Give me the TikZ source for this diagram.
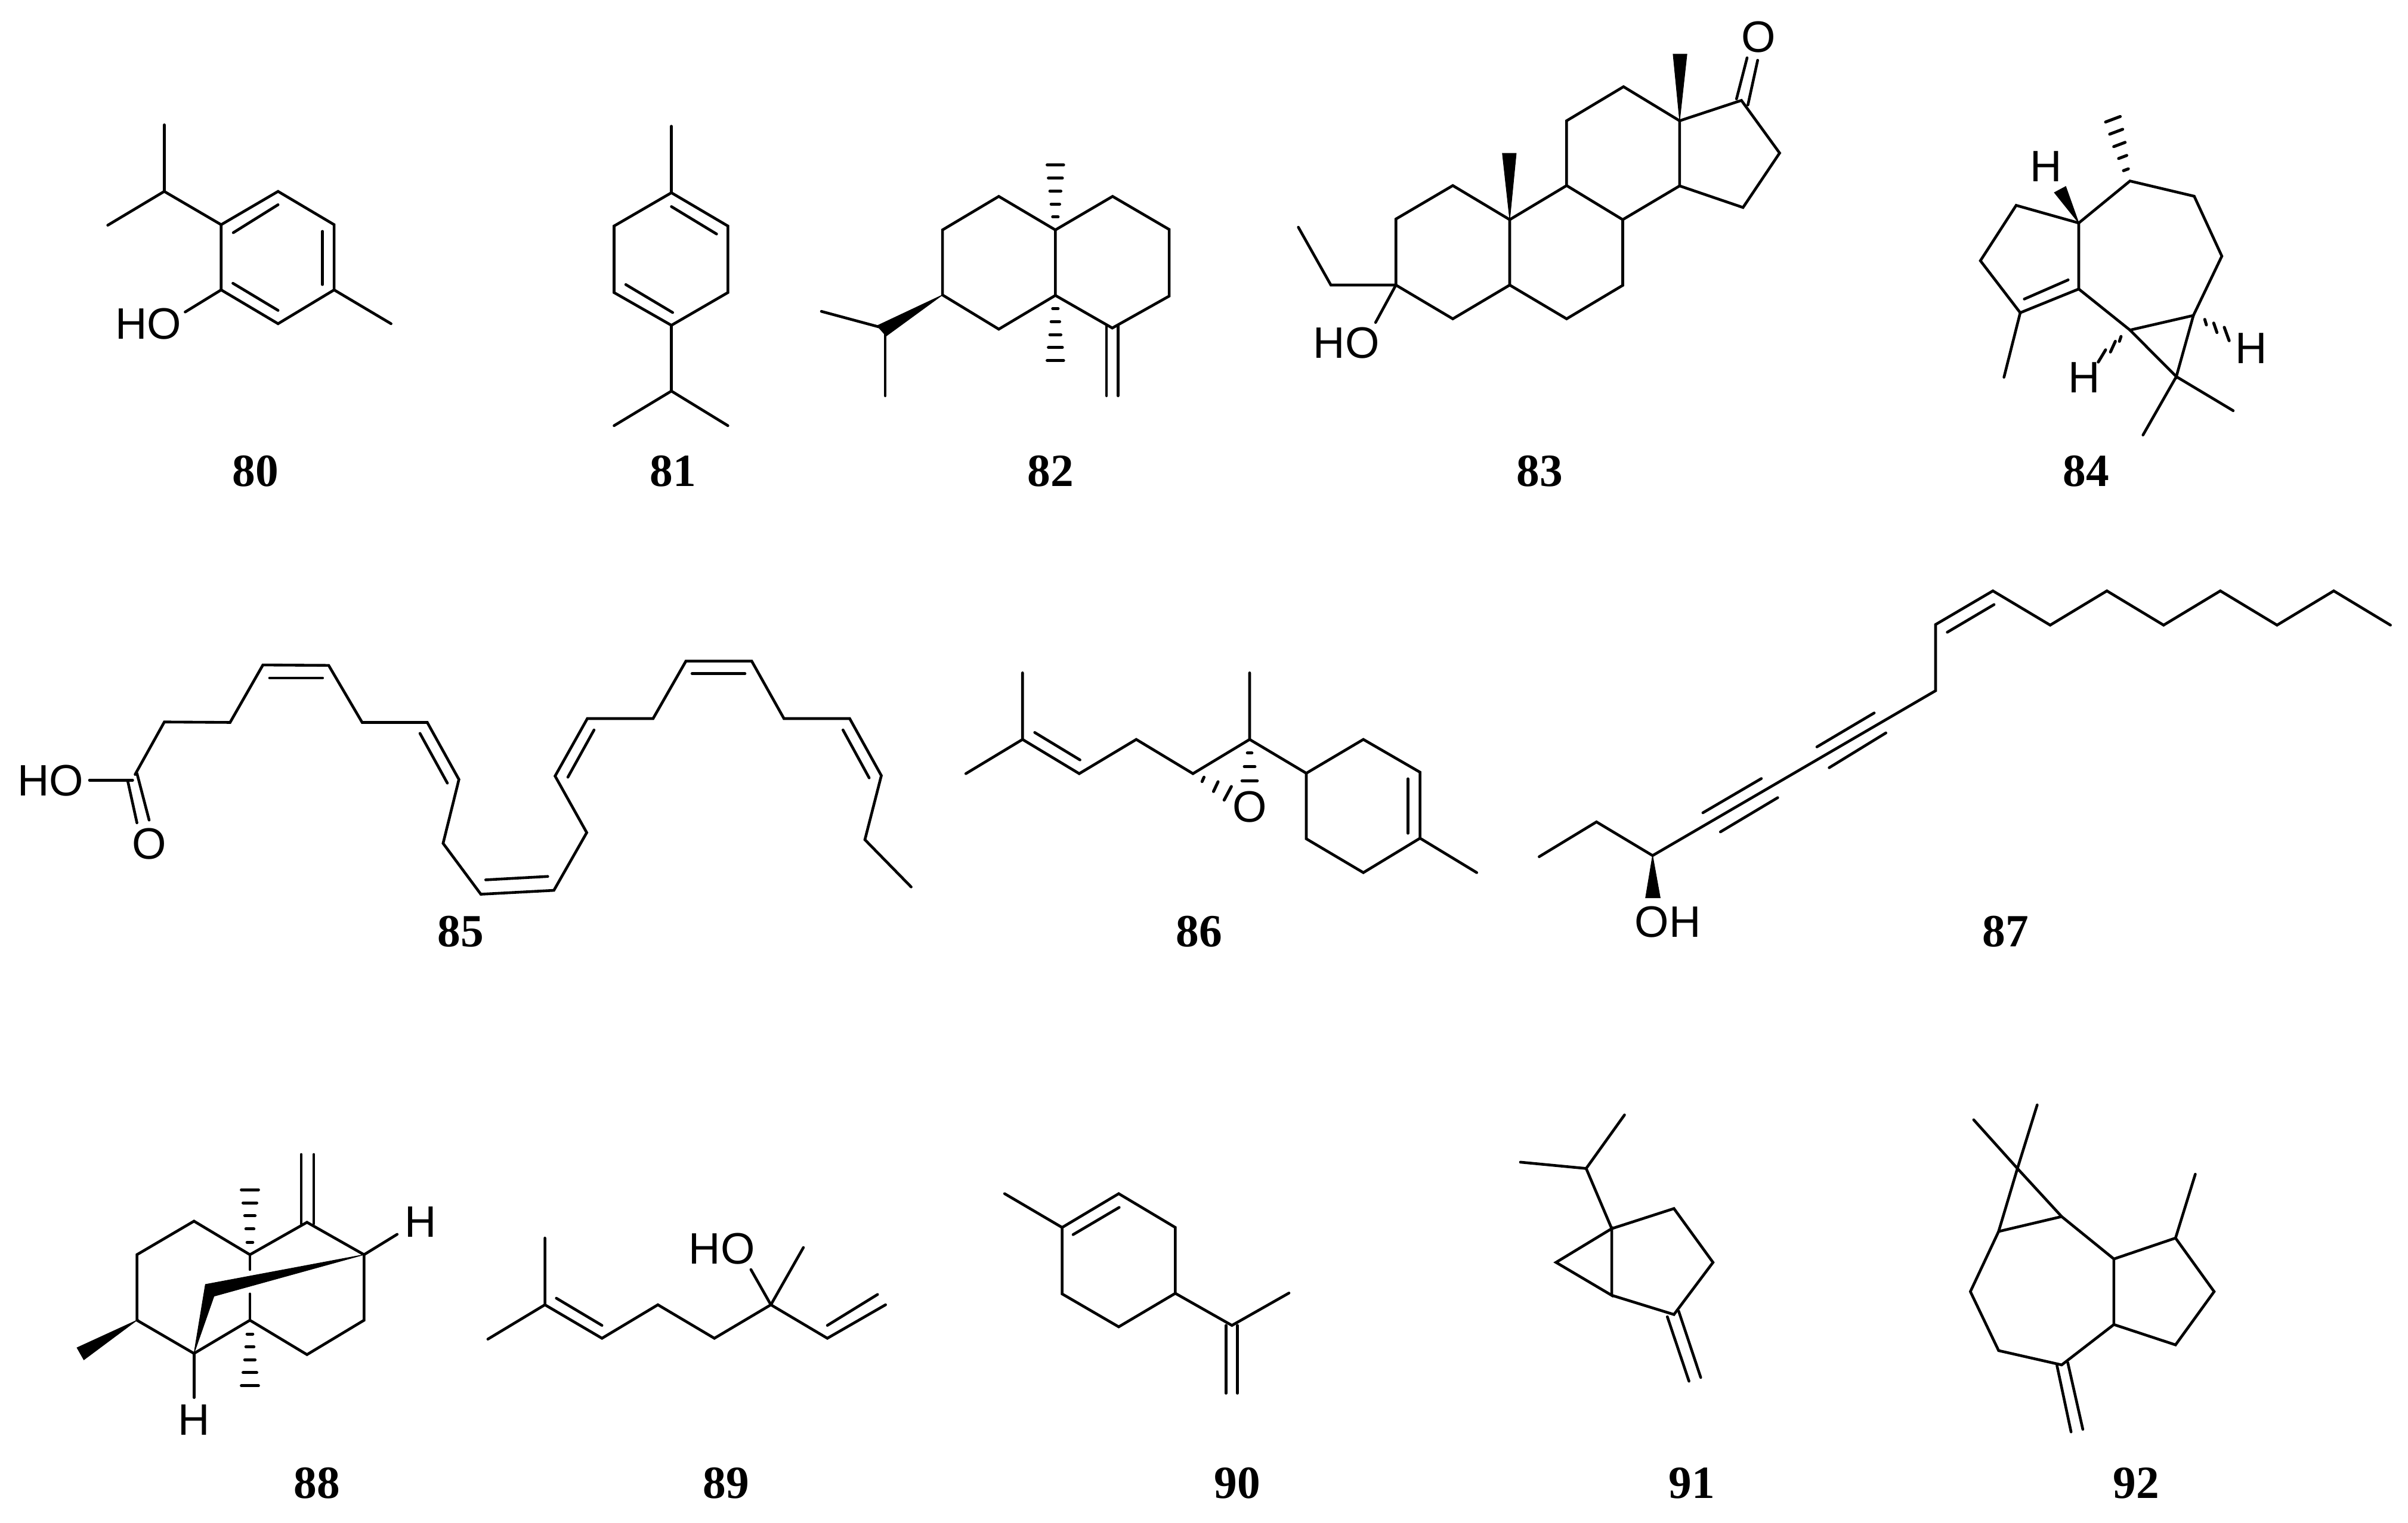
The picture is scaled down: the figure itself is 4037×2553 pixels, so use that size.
\documentclass[tikz,border=0pt]{standalone}
\usepackage{fontspec}
\setmainfont{Liberation Sans}
\newfontfamily\lblfont[Ligatures=TeX]{Liberation Serif}
\tikzset{
  bond/.style={line width=0.46mm,line cap=round,line join=miter,black},
  hashd/.style={line width=0.5mm,line cap=round,black},
  wedgeb/.style={fill=black,draw=black,line width=0.1mm,line join=miter},
  atom/.style={inner sep=0pt,font=\fontsize{21}{21}\selectfont,text=black},
  cmpd/.style={inner sep=0pt,font=\lblfont\bfseries\fontsize{22}{22}\selectfont,text=black},
  zm/.style n args={5}{shift={(#1,#2)},x=#3/1568*0.01cm,y=-#4/#5*0.01cm}
}
\newcommand{\hashv}[2]{\foreach \yy/\ww in {#2} \draw[hashd] ({#1-\ww/2},\yy) -- ({#1+\ww/2},\yy);}
\begin{document}
\begin{tikzpicture}[x=0.01cm,y=-0.01cm]
\path[use as bounding box,fill=white] (0,0) rectangle (4037,2553);
% 80, 81
\begin{scope}[zm={100}{100}{1100}{700}{1568}]
\draw[bond] (250,245)--(250,495);
\draw[bond] (115,622)--(250,495)--(386,620);
\draw[bond] (386,620)--(522,495)--(656,620)--(656,865)--(522,992)--(386,865)--cycle;
\draw[bond] (386,865)--(300,948);
\draw[bond] (656,865)--(792,992);
\draw[bond] (415,650)--(522,545);
\draw[bond] (628,645)--(628,845);
\draw[bond] (414,840)--(522,942);
\node[atom] (ho80) at (212,992) {HO};
\draw[bond] (1462,250)--(1462,500);
\draw[bond] (1462,500)--(1325,625)--(1325,875)--(1462,998)--(1597,875)--(1597,625)--cycle;
\draw[bond] (1462,552)--(1570,655);
\draw[bond] (1353,845)--(1465,950);
\draw[bond] (1462,998)--(1462,1245);
\draw[bond] (1325,1375)--(1462,1245)--(1597,1375);
\end{scope}
% 82
\begin{scope}[zm={1200}{200}{800}{600}{1568}]
\draw[bond] (745,770)--(745,485)--(930,338)--(1116,485)--(1116,772)--(930,920)--cycle;
\draw[bond] (1116,485)--(1304,338)--(1490,483)--(1490,775)--(1303,915)--(1116,772);
\draw[bond] (1284,905)--(1284,1212);
\draw[bond] (1322,905)--(1322,1212);
\fill[wedgeb] (745,770)--(530,905)--(560,950)--cycle;
\draw[bond] (347,842)--(550,915);
\draw[bond] (557,925)--(557,1212);
\hashv{1116}{428/18,372/28,315/36,258/46,200/54}
\hashv{1116}{830/18,887/28,944/36,1000/46,1057/54}
\end{scope}
% 83, 84
\begin{scope}[zm={1900}{0}{2137}{800}{1568}]
\draw[bond] (323,720)--(393,610)--(463,722)--(463,937)--(393,1048)--(323,937)--cycle;
\draw[bond] (463,722)--(533,610)--(602,722)--(602,938)--(533,1048)--(463,937);
\draw[bond] (533,610)--(533,397)--(603,285)--(672,397)--(672,611)--(602,722);
\draw[bond] (672,397)--(748,330)--(795,503)--(750,682)--(672,611);
\draw[bond] (323,937)--(243,937)--(203,747);
\draw[bond] (323,937)--(298,1060);
\node[atom] (ho83) at (262,1128) {HO};
\draw[bond] (742,325)--(755,190);
\draw[bond] (756,345)--(768,198);
\node[atom] (o83) at (769,122) {O};
\fill[wedgeb] (672,397)--(664,178)--(681,178)--cycle;
\fill[wedgeb] (463,722)--(454,504)--(471,504)--cycle;
\draw[bond] (1163,733)--(1086,675)--(1042,857)--(1091,1028)--(1163,950)--cycle;
\draw[bond] (1163,733)--(1226,595)--(1305,645)--(1339,842)--(1304,1037)--(1226,1085)--(1163,950);
\draw[bond] (1096,983)--(1150,920);
\draw[bond] (1091,1028)--(1071,1240);
\draw[bond] (1226,1085)--(1283,1238)--(1304,1037);
\draw[bond] (1283,1238)--(1353,1350);
\draw[bond] (1283,1238)--(1242,1430);
\fill[wedgeb] (1163,733)--(1133,633)--(1147,613)--cycle;
\node[atom] (h84a) at (1123,547) {H};
\foreach \cx/\cy/\k in {1221/558/3,1217/516/5,1213/475/7,1209/433/8,1205/392/9}
  \draw[hashd] ({\cx-\k},{\cy+\k}) -- ({\cx+\k},{\cy-\k});
\draw[hashd] (1215,1106)--(1213,1122);
\draw[hashd] (1208,1122)--(1202,1157);
\draw[hashd] (1196,1150)--(1187,1190);
\node[atom] (h84b) at (1170,1240) {H};
\draw[hashd] (1318,1050)--(1320,1068);
\draw[hashd] (1329,1062)--(1333,1093);
\draw[hashd] (1342,1076)--(1348,1120);
\node[atom] (h84c) at (1375,1145) {H};
\end{scope}
% 85
\begin{scope}[zm={0}{1050}{1600}{600}{1568}]
\draw[bond] (222,650)--(270,420)--(378,422)--(432,170)--(540,172)--(595,422)--(702,422)--(754,672)--(728,952)--(790,1175)--(910,1158)--(964,905)--(912,657)--(965,405)--(1073,405)--(1127,153)--(1235,153)--(1288,405)--(1396,405)--(1448,655)--(1421,936)--(1497,1143);
\draw[bond] (443,227)--(530,227);
\draw[bond] (690,470)--(735,688);
\draw[bond] (798,1112)--(900,1097);
\draw[bond] (933,662)--(976,455);
\draw[bond] (1137,208)--(1224,208);
\draw[bond] (1385,455)--(1428,665);
\draw[bond] (210,680)--(225,862);
\draw[bond] (225,645)--(245,850);
\draw[bond] (147,675)--(218,675);
\node[atom] (ho85) at (83,677) {HO};
\node[atom] (o85) at (245,955) {O};
\end{scope}
% 86
\begin{scope}[zm={1500}{1100}{1000}{500}{1500}]
\draw[bond] (187,592)--(336,420)--(336,85);
\draw[bond] (336,420)--(485,592)--(635,420)--(784,592)--(933,420)--(933,85);
\draw[bond] (933,420)--(1082,590);
\draw[bond] (1082,590)--(1232,420)--(1381,585)--(1381,917)--(1232,1090)--(1082,920)--cycle;
\draw[bond] (1381,917)--(1530,1090);
\draw[bond] (368,385)--(487,523);
\draw[bond] (1349,618)--(1349,892);
\hashv{933}{488/12,557/28,628/40}
\draw[hashd] (813,610)--(808,632);
\draw[hashd] (850,633)--(838,682);
\draw[hashd] (885,657)--(866,725);
\node[atom] (o86) at (933,758) {O};
\end{scope}
% 87
\begin{scope}[zm={2500}{900}{1537}{750}{1568}]
\draw[bond] (82,1122)--(180,1000)--(276,1118)--(760,540)--(760,308)--(858,190)--(956,310)--(1053,190)--(1150,310)--(1247,190)--(1344,310)--(1441,190)--(1538,310);
\draw[bond] (780,335)--(860,238);
\draw[bond] (362,968)--(462,848);
\draw[bond] (392,1035)--(490,915);
\draw[bond] (557,737)--(655,618);
\draw[bond] (578,810)--(675,688);
\fill[wedgeb] (276,1118)--(264,1266)--(289,1266)--cycle;
\node[atom] (oh87) at (302,1350) {OH};
\end{scope}
% 88, 89
\begin{scope}[zm={0}{1800}{1500}{753}{1568}]
\draw[bond] (438,633)--(340,516)--(240,633)--(240,862)--(340,978)--(438,862)--(538,982)--(638,862)--(638,633)--(538,520)--cycle;
\draw[bond] (438,633)--(438,685);
\draw[bond] (438,770)--(438,862);
\draw[bond] (340,978)--(340,1132);
\node[atom] (h88a) at (340,1210) {H};
\draw[bond] (638,633)--(696,562);
\node[atom] (h88b) at (737,518) {H};
\draw[bond] (528,525)--(528,283);
\draw[bond] (550,525)--(550,283);
\fill[wedgeb] (240,862)--(135,958)--(147,1000)--cycle;
\fill[wedgeb] (638,633)--(360,737)--(340,978)--(375,778)--cycle;
\hashv{438}{590/10,543/14,497/18,452/24,406/30}
\hashv{438}{910/10,955/14,1000/18,1045/24,1091/30}
\draw[bond] (855,928)--(955,808)--(955,575);
\draw[bond] (955,808)--(1055,925)--(1153,808)--(1252,925)--(1351,808)--(1450,925)--(1552,808);
\draw[bond] (975,785)--(1055,880);
\draw[bond] (1450,880)--(1538,772);
\draw[bond] (1351,808)--(1408,608);
\draw[bond] (1351,808)--(1316,685);
\node[atom] (ho89) at (1265,612) {HO};
\end{scope}
% 90, 91 substituents
\begin{scope}[zm={1600}{1800}{1200}{753}{1568}]
\draw[bond] (110,420)--(236,538);
\draw[bond] (236,538)--(360,420)--(484,538)--(484,768)--(360,885)--(236,770)--cycle;
\draw[bond] (260,563)--(361,468);
\draw[bond] (484,768)--(608,880)--(733,767);
\draw[bond] (595,880)--(595,1117);
\draw[bond] (620,880)--(620,1117);
\draw[bond] (1240,310)--(1384,332)--(1468,145);
\draw[bond] (1384,332)--(1440,542);
\draw[bond] (1440,542)--(1318,660)--(1440,775)--cycle;
\end{scope}
% 91 ring, 92
\begin{scope}[zm={2800}{1800}{1237}{753}{1568}]
\draw[bond] (-124,542)--(8,472)--(91,660)--(8,842)--(-124,775);
\draw[bond] (18,830)--(65,1062);
\draw[bond] (-6,850)--(40,1075);
\draw[bond] (645,162)--(738,332)--(832,500)--(943,648)--(943,877)--(832,1018)--(698,968)--(638,762)--(698,552)--(738,332)--(780,110);
\draw[bond] (698,552)--(832,500);
\draw[bond] (943,648)--(1074,575)--(1156,762)--(1074,948)--(943,877);
\draw[bond] (1074,575)--(1116,352);
\draw[bond] (822,1020)--(852,1252);
\draw[bond] (845,1010)--(877,1243);
\end{scope}
% labels
\node[cmpd] (c80) at (428,790) {80};
\node[cmpd] (c81) at (1128,790) {81};
\node[cmpd] (c82) at (1761,790) {82};
\node[cmpd] (c83) at (2581,790) {83};
\node[cmpd] (c84) at (3497,790) {84};
\node[cmpd] (c85) at (772,1562) {85};
\node[cmpd] (c86) at (2010,1562) {86};
\node[cmpd] (c87) at (3362,1562) {87};
\node[cmpd] (c88) at (531,2487) {88};
\node[cmpd] (c89) at (1217,2487) {89};
\node[cmpd] (c90) at (2074,2487) {90};
\node[cmpd] (c91) at (2836,2487) {91};
\node[cmpd] (c92) at (3581,2487) {92};
\end{tikzpicture}
\end{document}
